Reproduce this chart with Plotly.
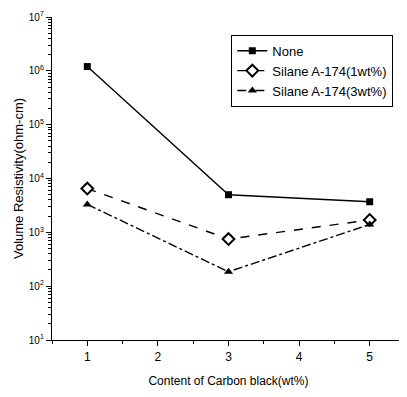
import plotly.graph_objects as go

content = [1, 3, 5]
none_vals = [1.2e6, 5000, 3700]
silane1_vals = [6500, 750, 1700]
silane3_vals = [3300, 185, 1400]
series_names = ["None", "Silane A-174(1wt%)", "Silane A-174(3wt%)"]
ytick_vals = [1e1, 1e2, 1e3, 1e4, 1e5, 1e6, 1e7]
ytick_text = ["10<sup>1</sup>", "10<sup>2</sup>", "10<sup>3</sup>", "10<sup>4</sup>",
              "10<sup>5</sup>", "10<sup>6</sup>", "10<sup>7</sup>"]

font = "Liberation Sans, Arial, sans-serif"

fig = go.Figure()
fig.add_trace(go.Scatter(x=content, y=none_vals, name=series_names[0], mode="lines+markers",
                         line=dict(color="black", width=1.4, dash="solid"),
                         marker=dict(symbol="square", size=7, color="black")))
fig.add_trace(go.Scatter(x=content, y=silane1_vals, name=series_names[1], mode="lines+markers",
                         line=dict(color="black", width=1.4, dash="dash"),
                         marker=dict(symbol="diamond", size=9, color="white",
                                     line=dict(color="black", width=2))))
fig.add_trace(go.Scatter(x=content, y=silane3_vals, name=series_names[2], mode="lines+markers",
                         line=dict(color="black", width=1.4, dash="dashdot"),
                         marker=dict(symbol="triangle-up", size=8, color="black")))

# page body has an 8px default margin, so the figure is shifted; compensate via margins
fig.update_layout(
    width=399, height=389,
    margin=dict(l=44, r=2, t=7, b=57),
    paper_bgcolor="white", plot_bgcolor="white",
    font=dict(family=font, size=11, color="black"),
    legend=dict(x=0.508, y=0.945, xanchor="left", yanchor="top",
                bordercolor="black", borderwidth=1, bgcolor="white",
                font=dict(size=13), tracegroupgap=0, itemwidth=30),
    showlegend=True,
)
fig.update_xaxes(
    range=[0.5, 5.5], tickvals=[1, 2, 3, 4, 5], showline=True, linecolor="black", linewidth=1.3,
    ticks="outside", ticklen=5, tickcolor="black", showgrid=False, zeroline=False,
    minor=dict(ticks="outside", ticklen=3, tickcolor="black", dtick=0.5, tick0=0.5),
    title=dict(text="Content of Carbon black(wt%)", font=dict(size=12), standoff=14),
    tickfont=dict(size=12),
)
fig.update_yaxes(
    type="log", range=[1, 7], tickvals=ytick_vals, ticktext=ytick_text,
    showline=True, linecolor="black", linewidth=1.3,
    ticks="outside", ticklen=5, tickcolor="black", showgrid=False, zeroline=False,
    minor=dict(ticks="outside", ticklen=3, tickcolor="black", dtick="D1", showgrid=False),
    title=dict(text="Volume Resistivity(ohm-cm)", font=dict(size=13), standoff=2),
    tickfont=dict(size=10),
)

fig.write_html("out.html")
